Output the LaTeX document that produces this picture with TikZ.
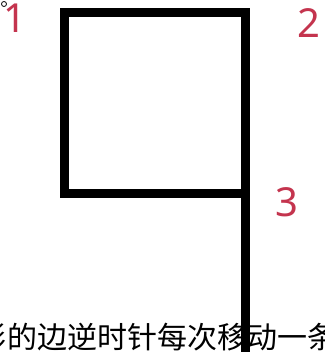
\documentclass[tikz,border=0pt]{standalone}
\usepackage{fontspec}
\newfontfamily\cjk{Noto Sans CJK SC}
\newfontfamily\numfont{Noto Sans}
\definecolor{labelred}{RGB}{196,52,78}
\begin{document}
\begin{tikzpicture}[x=1pt,y=-1pt,
  numlabel/.style={text=labelred,font=\numfont\fontsize{40}{40}\selectfont,inner sep=0pt,anchor=center},
  edge/.style={line width=9pt,draw=black,line join=miter}]
\useasboundingbox (0,0) rectangle (324,352);
\clip (0,0) rectangle (324,352);
\fill[white] (0,0) rectangle (324,352);
% caption text (cropped)
\node[inner sep=0pt,anchor=center,font=\cjk\fontsize{30}{30}\selectfont] (cap) at (157,337) {形的边逆时针每次移动一条};
% small circle remnant
\node[draw=black,circle,inner sep=0pt,minimum size=5pt,line width=0.8pt] (dot) at (4,4) {};
% corners
\coordinate (c1) at (64.5,13);
\coordinate (c2) at (245.5,13);
\coordinate (c3) at (245.5,193.5);
\coordinate (c4) at (64.5,193.5);
\coordinate (tail) at (245.5,360);
\draw[edge] (c3) -- (c4) -- (c1) -- (c2) -- (tail);
% labels
\node[numlabel] (l1) at (15,18) {1};
\node[numlabel] (l2) at (309,23) {2};
\node[numlabel] (l3) at (287,202) {3};
\end{tikzpicture}
\end{document}
